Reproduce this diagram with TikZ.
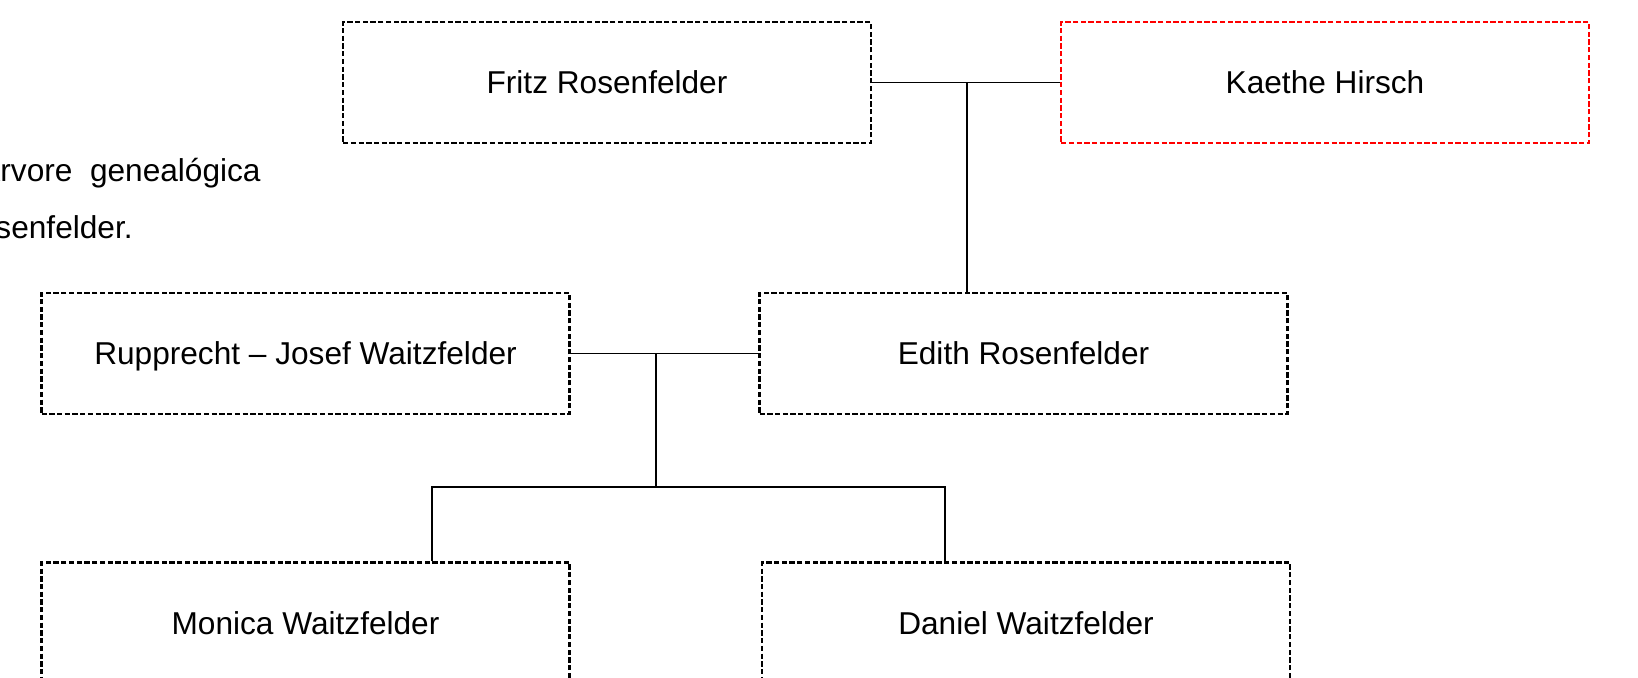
\documentclass[tikz,border=0pt]{standalone}
\usepackage{fontspec}
\setmainfont{Liberation Sans}
\tikzset{
    mybox/.style = {rectangle, line width=1.4pt, draw=black, dash pattern=on 3pt off 1.4pt, minimum width=10.56cm, minimum height=2.42cm, align=center, text=black, text height=13pt, text depth=0pt},
    myboxr/.style = {mybox, draw=red},
    edgen/.style = {-, line width=1pt, black},
    captext/.style = {anchor=base east, inner sep=0pt, text=black}
}

\begin{document}
\begin{tikzpicture}[x=0.02cm, y=-0.02cm, font=\fontsize{18}{22}\selectfont]
  \useasboundingbox (0,0) rectangle (1638,678);
  % caption, cut off at the left edge
  \node[captext] (cap1) at (261,182) {Árvore\ \ genealógica};
  \node[captext] (cap2) at (133,239) {Rosenfelder.};
  % parents
  \node[mybox] (fritz) at (607,82.5) {Fritz Rosenfelder};
  \node[myboxr] (kaethe) at (1325,82.5) {Kaethe Hirsch};
  % second generation
  \node[mybox] (rupprecht) at (305.5,353.5) {Rupprecht – Josef Waitzfelder};
  \node[mybox] (edith) at (1023.5,353.5) {Edith Rosenfelder};
  % children
  \node[mybox] (monica) at (305.5,623) {Monica Waitzfelder};
  \node[mybox] (daniel) at (1026,623) {Daniel Waitzfelder};

  \coordinate (m1) at (967,82.5);
  \coordinate (m2) at (656,353.5);
  \coordinate (bar) at (656,487);
  \coordinate (barl) at (432,487);
  \coordinate (barr) at (945,487);

  \draw[edgen] (fritz) -- (kaethe);
  \draw[edgen] (m1) -- (m1 |- edith.north);
  \draw[edgen] (rupprecht) -- (edith);
  \draw[edgen] (m2) -- (bar);
  \draw[edgen] (monica.north -| barl) -- (barl) -- (barr) -- (daniel.north -| barr);
\end{tikzpicture}
\end{document}
